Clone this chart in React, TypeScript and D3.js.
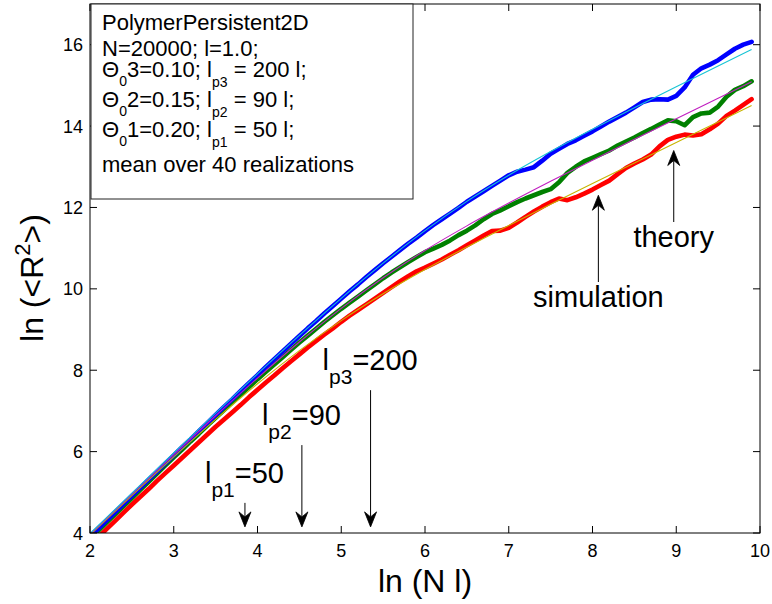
import React from "react";
import * as d3 from "d3";

// ln(N l) sample positions for the simulated chains
const simX = [
  2.0, 2.1, 2.2, 2.3, 2.4, 2.5, 2.6, 2.7, 2.8, 2.9,
  3.0, 3.1, 3.2, 3.3, 3.4, 3.5, 3.6, 3.7, 3.8, 3.9,
  4.0, 4.1, 4.2, 4.3, 4.4, 4.5, 4.6, 4.7, 4.8, 4.9,
  5.0, 5.1, 5.2, 5.3, 5.4, 5.5, 5.6, 5.7, 5.8, 5.9,
  6.0, 6.1, 6.2, 6.3, 6.4, 6.5, 6.6, 6.7, 6.8, 6.9,
  7.0, 7.1, 7.2, 7.3, 7.4, 7.5, 7.6, 7.7, 7.8, 7.9,
  8.0, 8.1, 8.2, 8.3, 8.4, 8.5, 8.6, 8.7, 8.8, 8.9,
  9.0, 9.1, 9.2, 9.3, 9.4, 9.5, 9.6, 9.7, 9.8, 9.9,
];

// simulated ln(<R^2>), l_p3 = 200
const simBlue = [
  3.91, 4.11, 4.31, 4.51, 4.71, 4.91, 5.11, 5.31, 5.51, 5.71,
  5.91, 6.11, 6.30, 6.50, 6.70, 6.90, 7.10, 7.29, 7.49, 7.69,
  7.88, 8.08, 8.27, 8.46, 8.65, 8.84, 9.03, 9.21, 9.40, 9.58,
  9.76, 9.94, 10.11, 10.29, 10.46, 10.63, 10.79, 10.95, 11.11, 11.26,
  11.42, 11.57, 11.71, 11.85, 11.99, 12.14, 12.27, 12.40, 12.53, 12.66,
  12.79, 12.88, 12.93, 12.99, 13.15, 13.32, 13.44, 13.56, 13.65, 13.76,
  13.87, 13.99, 14.11, 14.22, 14.33, 14.46, 14.59, 14.65, 14.66, 14.65,
  14.74, 14.95, 15.26, 15.42, 15.51, 15.62, 15.76, 15.90, 16.00, 16.07,
];

// simulated ln(<R^2>), l_p2 = 90
const simGreen = [
  3.86, 4.06, 4.26, 4.46, 4.66, 4.86, 5.06, 5.26, 5.46, 5.66,
  5.86, 6.05, 6.25, 6.44, 6.64, 6.83, 7.02, 7.21, 7.40, 7.59,
  7.78, 7.96, 8.14, 8.32, 8.50, 8.68, 8.85, 9.02, 9.19, 9.35,
  9.51, 9.66, 9.81, 9.96, 10.11, 10.26, 10.40, 10.53, 10.66, 10.78,
  10.90, 10.99, 11.08, 11.19, 11.32, 11.43, 11.56, 11.71, 11.84, 11.93,
  12.03, 12.13, 12.22, 12.30, 12.38, 12.45, 12.62, 12.85, 13.00, 13.13,
  13.22, 13.31, 13.40, 13.52, 13.62, 13.72, 13.83, 13.93, 14.04, 14.14,
  14.12, 14.02, 14.22, 14.31, 14.33, 14.48, 14.72, 14.89, 14.98, 15.10,
];

// simulated ln(<R^2>), l_p1 = 50
const simRed = [
  3.70, 3.90, 4.10, 4.30, 4.50, 4.70, 4.89, 5.08, 5.28, 5.47,
  5.66, 5.85, 6.04, 6.23, 6.42, 6.61, 6.79, 6.97, 7.15, 7.34,
  7.52, 7.70, 7.87, 8.05, 8.22, 8.39, 8.56, 8.72, 8.88, 9.03,
  9.19, 9.34, 9.48, 9.62, 9.76, 9.90, 10.04, 10.18, 10.31, 10.43,
  10.52, 10.62, 10.72, 10.84, 10.95, 11.07, 11.19, 11.31, 11.42, 11.43,
  11.50, 11.63, 11.77, 11.90, 12.02, 12.13, 12.22, 12.18, 12.25, 12.34,
  12.44, 12.55, 12.66, 12.82, 12.97, 13.08, 13.18, 13.30, 13.50, 13.66,
  13.74, 13.79, 13.77, 13.80, 13.92, 14.06, 14.25, 14.38, 14.52, 14.66,
];

// worm-like-chain prediction, sampled along ln(N l)
const theoryX = [2, 2.5, 3, 3.5, 4, 4.5, 5, 5.5, 6, 6.5, 7, 7.5, 8, 8.5, 9, 9.5, 9.9];
const theoryBlue = [3.988, 4.98, 5.967, 6.946, 7.91, 8.856, 9.767, 10.631, 11.43, 12.149, 12.791, 13.374, 13.922, 14.45, 14.966, 15.476, 15.881];
const theoryGreen = [3.973, 4.955, 5.927, 6.881, 7.808, 8.693, 9.52, 10.272, 10.944, 11.548, 12.107, 12.642, 13.162, 13.674, 14.182, 14.686, 15.089];
const theoryRed = [3.951, 4.92, 5.871, 6.791, 7.667, 8.482, 9.22, 9.879, 10.473, 11.027, 11.559, 12.077, 12.588, 13.095, 13.599, 14.101, 14.503];

const xTicks = [2, 3, 4, 5, 6, 7, 8, 9, 10];
const yTicks = [4, 6, 8, 10, 12, 14, 16];

// persistence-length markers along the bottom
const lpIndex = ["1", "2", "3"];
const lpValue = ["50", "90", "200"];
const lpArrowX = [3.85, 4.53, 5.35];
const lpArrowTop = [4.74, 6.16, 7.51];
const lpArrowTip = 4.15;

// legend rows: Θ0 index, angle, persistence length
const legendIdx = ["3", "2", "1"];
const legendTheta = ["0.10", "0.15", "0.20"];
const legendLp = ["200", "90", "50"];

const FONT = "'Liberation Sans', Arial, Helvetica, sans-serif";

const left = 90;
const right = 760;
const top = 4;
const bottom = 533;

function Arrow({ x, y1, y2 }: { x: number; y1: number; y2: number }) {
  // vertical arrow from y1 (tail) to y2 (tip), barbed head
  const dir = y2 > y1 ? 1 : -1;
  const hl = 15;
  const hw = 6;
  const notch = 10;
  const head = `M${x},${y2} L${x - hw},${y2 - dir * hl} L${x},${y2 - dir * notch} L${x + hw},${y2 - dir * hl} Z`;
  return (
    <g>
      <line x1={x} y1={y1} x2={x} y2={y2 - dir * notch} stroke="#000" strokeWidth={1} />
      <path d={head} fill="#000" stroke="#000" strokeWidth={0.8} strokeLinejoin="miter" />
    </g>
  );
}

export default function App() {
  const xScale = d3.scaleLinear().domain([2, 10]).range([left, right]);
  const yScale = d3.scaleLinear().domain([4, 17]).range([bottom, top]);

  const line = d3
    .line<[number, number]>()
    .x((d) => xScale(d[0]))
    .y((d) => yScale(d[1]));
  const smooth = d3
    .line<[number, number]>()
    .x((d) => xScale(d[0]))
    .y((d) => yScale(d[1]))
    .curve(d3.curveMonotoneX);

  const zipSim = (ys: number[]) => simX.map((x, i) => [x, ys[i]] as [number, number]);
  const zipTh = (ys: number[]) => theoryX.map((x, i) => [x, ys[i]] as [number, number]);

  const sims = [
    { ys: simRed, color: "#ff0000" },
    { ys: simGreen, color: "#008000" },
    { ys: simBlue, color: "#0000ff" },
  ];
  const theories = [
    { ys: theoryRed, color: "#c8b400" },
    { ys: theoryGreen, color: "#c020c0" },
    { ys: theoryBlue, color: "#18c4d4" },
  ];

  const tickLen = 7;
  const legendBase = [77, 107, 137];

  return (
    <svg width={772} height={604} style={{ display: "block", position: "absolute", left: 0, top: 0 }} fontFamily={FONT}>
      <rect x={0} y={0} width={772} height={604} fill="#fff" />
      <defs>
        <clipPath id="plotClip">
          <rect x={left} y={top} width={right - left} height={bottom - top} />
        </clipPath>
      </defs>

      <g clipPath="url(#plotClip)">
        {sims.map((s, i) => (
          <path key={"s" + i} d={line(zipSim(s.ys)) || ""} fill="none" stroke={s.color} strokeWidth={4.6} strokeLinejoin="round" strokeLinecap="round" />
        ))}
        {theories.map((t, i) => (
          <path key={"t" + i} d={smooth(zipTh(t.ys)) || ""} fill="none" stroke={t.color} strokeWidth={1.1} />
        ))}
      </g>

      {/* axes box */}
      <rect x={left} y={top} width={right - left} height={bottom - top} fill="none" stroke="#000" strokeWidth={1} />
      {xTicks.map((t) => (
        <g key={"xt" + t}>
          <line x1={xScale(t)} x2={xScale(t)} y1={bottom} y2={bottom - tickLen} stroke="#000" />
          <line x1={xScale(t)} x2={xScale(t)} y1={top} y2={top + tickLen} stroke="#000" />
          <text x={xScale(t)} y={557} fontSize={18} textAnchor="middle" fill="#000">
            {t}
          </text>
        </g>
      ))}
      {yTicks.map((t) => (
        <g key={"yt" + t}>
          <line x1={left} x2={left + tickLen} y1={yScale(t)} y2={yScale(t)} stroke="#000" />
          <line x1={right} x2={right - tickLen} y1={yScale(t)} y2={yScale(t)} stroke="#000" />
          <text x={83} y={yScale(t) + 6.5} fontSize={18} textAnchor="end" fill="#000">
            {t}
          </text>
        </g>
      ))}

      {/* axis labels */}
      <text x={425} y={592} fontSize={32} textAnchor="middle" fill="#000">
        ln (N l)
      </text>
      <text transform="translate(43,278) rotate(-90)" fontSize={32} textAnchor="middle" fill="#000">
        ln (&lt;R<tspan fontSize={22} dy={-13}>2</tspan>
        <tspan dy={13}>&gt;)</tspan>
      </text>

      {/* legend box */}
      <rect x={91} y={4} width={322} height={195} fill="#fff" stroke="#222" strokeWidth={1} />
      <g fontSize={22} fill="#000">
        <text x={102} y={30}>PolymerPersistent2D</text>
        <text x={102} y={56}>N=20000; l=1.0;</text>
        {legendIdx.map((k, i) => (
          <text key={"lg" + k} x={102} y={legendBase[i]}>
            Θ<tspan fontSize={14} dy={9}>0</tspan>
            <tspan dy={-9}>{k}={legendTheta[i]}; l</tspan>
            <tspan fontSize={14} dy={10}>p{k}</tspan>
            <tspan dy={-10}> = {legendLp[i]} l;</tspan>
          </text>
        ))}
        <text x={102} y={172}>mean over 40 realizations</text>
      </g>

      {/* persistence length markers */}
      {lpArrowX.map((ax, i) => {
        const px = xScale(ax);
        const ty = yScale(lpArrowTop[i]);
        return (
          <g key={"lp" + i}>
            <Arrow x={px} y1={ty} y2={yScale(lpArrowTip)} />
            <text x={px - (i === 2 ? 48 : 40)} y={ty - 20} fontSize={29} fill="#000">
              l<tspan fontSize={21} dy={14}>p{lpIndex[i]}</tspan>
              <tspan dy={-14}>={lpValue[i]}</tspan>
            </text>
          </g>
        );
      })}

      {/* simulation / theory callouts */}
      <Arrow x={xScale(8.07)} y1={282} y2={yScale(12.3)} />
      <text x={xScale(8.07)} y={307} fontSize={29} textAnchor="middle" fill="#000">
        simulation
      </text>
      <Arrow x={xScale(8.97)} y1={222} y2={yScale(13.4)} />
      <text x={xScale(8.97)} y={247} fontSize={29} textAnchor="middle" fill="#000">
        theory
      </text>
    </svg>
  );
}
